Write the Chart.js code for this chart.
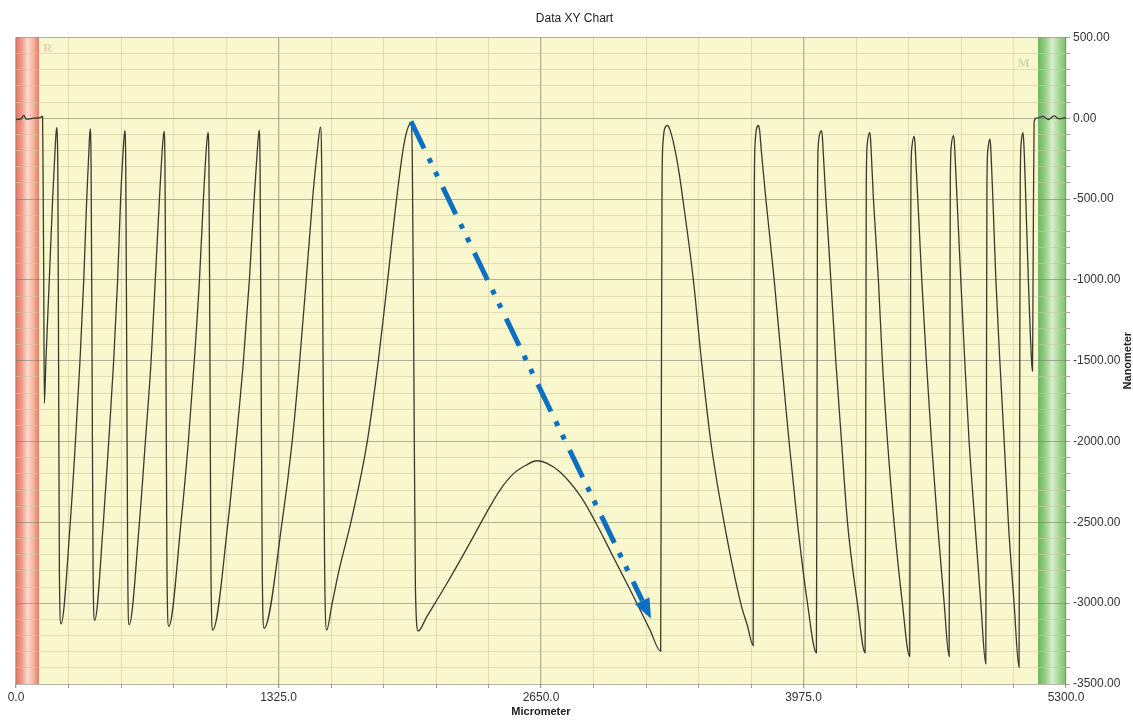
<!DOCTYPE html>
<html>
<head>
<meta charset="utf-8">
<title>Data XY Chart</title>
<script src="https://cdn.jsdelivr.net/npm/chart.js@4.4.1/dist/chart.umd.min.js"></script>
<style>
  html, body { margin: 0; padding: 0; background: #fff; }
  #wrap { width: 1133px; height: 720px; position: relative; }
</style>
</head>
<body>
<div id="wrap"><canvas id="xy"></canvas></div>
<script>
// ------------------------------------------------------
// profile data (Micrometer, Nanometer)
// ------------------------------------------------------
const xRange = [0, 5300];
const yRange = [-3500, 500];
const xStep = 265, xLabelEvery = 1325;
const yStep = 100, yLabelEvery = 500;

// flat lead-in + first short dip
const leadIn = [
  [0,-8],[25,-4],[40,18],[52,-6],[90,0],[120,4],[134,12],
  [137,-400],[140,-1000],[143,-1764]
];

// left side: slow rise, sharp drop
const leftWaves = [
  [151,-1500],[168,-1000],[185,-500],[197,-200],[205,-59],
  [211,-300],[215,-1500],[219,-2800],[227,-3128],
  [274,-2500],[300,-2000],[323,-1500],[342,-1000],[357,-500],[368,-200],[374,-66],
  [379,-300],[384,-1500],[389,-2800],[397,-3106],
  [441,-2500],[468,-2000],[493,-1500],[513,-1000],[528,-500],[541,-200],[549,-77],
  [554,-300],[559,-1500],[564,-2800],[571,-3133],
  [623,-2500],[653,-2000],[682,-1500],[703,-1000],[724,-500],[738,-200],[747,-81],
  [752,-300],[757,-1500],[762,-2800],[771,-3144],
  [833,-2500],[870,-2000],[900,-1500],[926,-1000],[946,-500],[960,-200],[969,-88],
  [974,-300],[979,-1500],[984,-2800],[993,-3166],
  [1070,-2500],[1111,-2000],[1148,-1500],[1178,-1000],[1202,-500],[1218,-200],[1227,-75],
  [1232,-300],[1237,-1500],[1243,-2800],[1252,-3155],
  [1343,-2500],[1394,-2000],[1432,-1500],[1465,-1000],[1497,-500],[1521,-200],[1537,-55],
  [1543,-300],[1550,-1500],[1558,-2800],[1568,-3166],
  [1596,-3000],[1630,-2800],[1694,-2480],[1773,-2000],[1829,-1500],[1876,-1000],[1921,-500],[1960,-150],[1993,-31],
  [2000,-200],[2008,-1500],[2016,-2900],[2030,-3172]
];

// middle hump
const hump = [
  [2073,-3085],[2174,-2880],[2249,-2720],[2308,-2590],[2375,-2440],[2443,-2300],
  [2510,-2200],[2577,-2145],[2628,-2119],[2678,-2134],[2746,-2189],[2850,-2340],
  [2930,-2510],[3013,-2710],[3103,-2925],[3150,-3040],[3200,-3165],[3254,-3296]
];

// right side: sharp rise, slow fall
const rightWaves = [
  [3257,-2000],[3261,-400],[3266,-150],[3275,-60],[3288,-45],
  [3302,-75],[3322,-170],[3346,-330],[3366,-500],[3419,-1000],[3460,-1500],[3507,-2000],[3574,-2500],[3658,-3000],[3692,-3140],[3721,-3262],
  [3724,-2000],[3727,-400],[3731,-150],[3738,-65],[3748,-45],
  [3754,-80],[3762,-200],[3785,-500],[3827,-1000],[3864,-1500],[3902,-2000],[3944,-2500],[3995,-3000],[4040,-3307],
  [4043,-2000],[4046,-400],[4050,-160],[4057,-95],[4066,-78],
  [4070,-110],[4075,-220],[4088,-500],[4113,-1000],[4138,-1500],[4167,-2000],[4197,-2500],[4247,-3000],[4286,-3307],
  [4289,-2000],[4292,-400],[4297,-160],[4309,-90],
  [4313,-120],[4318,-240],[4328,-500],[4353,-1000],[4373,-1500],[4399,-2000],[4432,-2500],[4474,-3000],[4511,-3329],
  [4514,-2000],[4517,-400],[4522,-180],[4533,-112],
  [4537,-140],[4542,-260],[4552,-500],[4572,-1000],[4595,-1500],[4621,-2000],[4651,-2500],[4685,-3000],[4710,-3329],
  [4713,-2000],[4716,-400],[4721,-170],[4732,-108],
  [4736,-140],[4741,-260],[4750,-500],[4769,-1000],[4789,-1500],[4811,-2000],[4840,-2500],[4870,-3000],[4895,-3374],
  [4898,-2000],[4901,-400],[4906,-190],[4915,-130],
  [4919,-160],[4923,-260],[4931,-500],[4946,-1000],[4966,-1500],[4988,-2000],[5009,-2500],[5038,-3000],[5063,-3397],
  [5066,-2000],[5069,-400],[5074,-150],[5082,-90],
  [5086,-130],[5090,-240],[5097,-500],[5110,-1000],[5126,-1500],[5131,-1565]
];

// tail back to zero
const leadOut = [
  [5135,-700],[5139,-20],[5150,0],[5185,12],[5210,-8],[5240,14],[5265,-4],[5300,4]
];

// R / M zones
const zoneR = [0, 116];
const zoneM = [5159, 5300];

// annotation arrow (start, tip)
const arrowStart = [1994, -20];
const arrowTip = [3205, -3096];


// ------------------------------------------------------
// colours / fonts
// ------------------------------------------------------
const FONT = '"Liberation Sans", Arial, sans-serif';
const PLOT_BG = '#f8f7cd';
const GRID_MAJOR = 'rgba(120,120,105,0.55)';
const GRID_MINOR = 'rgba(205,200,150,0.55)';
const LINE_COLOR = '#3a3a30';
const ARROW_BLUE = '#0b6fc2';

Chart.defaults.font.family = FONT;


// ------------------------------------------------------
// plugins
// ------------------------------------------------------
const plotBackground = {
  id: 'plotBackground',
  beforeDraw(chart){
    const { ctx, chartArea: a, scales: { x, y } } = chart;
    ctx.save();
    ctx.fillStyle = PLOT_BG;
    ctx.fillRect(a.left, a.top, a.right - a.left, a.bottom - a.top);

    const bands = [
      { range: zoneR, stops: ['#e37767','#ee9a88','#fbdacd','#f5b5a0','#ea7a60'],
        label: 'R', labelColor: '#ead3b4', lx: 136, ly: 430 },
      { range: zoneM, stops: ['#6ab659','#95cd84','#d8eecc','#a6d795','#7bbf69'],
        label: 'M', labelColor: '#cadcb0', lx: 5055, ly: 335 }
    ];
    bands.forEach(b => {
      const l = x.getPixelForValue(b.range[0]);
      const r = x.getPixelForValue(b.range[1]);
      const g = ctx.createLinearGradient(l, 0, r, 0);
      b.stops.forEach((c, i) => g.addColorStop(i / (b.stops.length - 1), c));
      ctx.fillStyle = g;
      ctx.fillRect(l, a.top, r - l, a.bottom - a.top);

      ctx.fillStyle = b.labelColor;
      ctx.font = 'bold 13px "Liberation Serif", serif';
      ctx.textAlign = 'left';
      ctx.textBaseline = 'middle';
      ctx.fillText(b.label, x.getPixelForValue(b.lx), y.getPixelForValue(b.ly));
    });
    ctx.restore();
  }
};

const arrowNote = {
  id: 'arrowNote',
  afterDatasetsDraw(chart){
    const { ctx, scales: { x, y } } = chart;
    const x0 = x.getPixelForValue(arrowStart[0]), y0 = y.getPixelForValue(arrowStart[1]);
    const x1 = x.getPixelForValue(arrowTip[0]),   y1 = y.getPixelForValue(arrowTip[1]);
    const ang = Math.atan2(y1 - y0, x1 - x0);
    const headLen = 20, headHalf = 8;
    const bx = x1 - headLen * Math.cos(ang), by = y1 - headLen * Math.sin(ang);

    ctx.save();
    ctx.strokeStyle = ARROW_BLUE;
    ctx.lineWidth = 5;
    ctx.lineCap = 'butt';
    ctx.setLineDash([30, 11, 5, 10, 5, 12]);
    ctx.beginPath();
    ctx.moveTo(x0, y0);
    ctx.lineTo(bx, by);
    ctx.stroke();

    ctx.setLineDash([]);
    ctx.fillStyle = ARROW_BLUE;
    ctx.beginPath();
    ctx.moveTo(x1, y1);
    ctx.lineTo(bx + headHalf * Math.sin(ang), by - headHalf * Math.cos(ang));
    ctx.lineTo(bx - headHalf * Math.sin(ang), by + headHalf * Math.cos(ang));
    ctx.closePath();
    ctx.fill();
    ctx.restore();
  }
};

// right-hand axis title, reading bottom to top
const yAxisTitle = {
  id: 'yAxisTitle',
  afterDraw(chart){
    const { ctx, chartArea: a } = chart;
    ctx.save();
    ctx.translate(chart.width - 5, (a.top + a.bottom) / 2);
    ctx.rotate(-Math.PI / 2);
    ctx.fillStyle = '#222';
    ctx.font = 'bold 11px ' + FONT;
    ctx.textAlign = 'center';
    ctx.textBaseline = 'middle';
    ctx.fillText('Nanometer', 0, 0);
    ctx.restore();
  }
};


// ------------------------------------------------------
// chart
// ------------------------------------------------------
const profile = [].concat(leadIn, leftWaves, hump, rightWaves, leadOut);

new Chart(document.getElementById('xy').getContext('2d'), {
  type: 'line',
  data: {
    datasets: [{
      data: profile.map(([px, py]) => ({ x: px, y: py })),
      borderColor: LINE_COLOR,
      borderWidth: 1.3,
      pointRadius: 0,
      fill: false,
      cubicInterpolationMode: 'monotone'
    }]
  },
  options: {
    responsive: true,
    maintainAspectRatio: false,
    animation: false,
    layout: { padding: { left: 16, right: 0, top: 0, bottom: 0 } },
    plugins: {
      legend: { display: false },
      tooltip: { enabled: false },
      title: {
        display: true,
        text: 'Data XY Chart',
        color: '#222',
        font: { size: 12, weight: 'normal' },
        padding: { top: 11, bottom: 12 }
      }
    },
    scales: {
      x: {
        type: 'linear',
        position: 'bottom',
        min: xRange[0], max: xRange[1],
        border: { display: false },
        grid: {
          color: c => (c.tick && c.tick.value % xLabelEvery === 0) ? GRID_MAJOR : GRID_MINOR,
          lineWidth: c => (c.tick && c.tick.value % xLabelEvery === 0) ? 1.3 : 1,
          tickLength: 4,
          tickColor: '#a0a0a0'
        },
        ticks: {
          stepSize: xStep,
          autoSkip: false,
          maxRotation: 0,
          padding: 2,
          color: '#333',
          font: { size: 12 },
          callback: v => v % xLabelEvery === 0 ? v.toFixed(1) : ''
        },
        title: {
          display: true,
          text: 'Micrometer',
          color: '#222',
          font: { size: 11, weight: 'bold' },
          padding: { top: 0, bottom: 1 }
        },
        afterFit(s){ s.height = 36; }
      },
      y: {
        type: 'linear',
        position: 'right',
        min: yRange[0], max: yRange[1],
        border: { display: false },
        grid: {
          color: c => (c.tick && c.tick.value % yLabelEvery === 0) ? GRID_MAJOR : GRID_MINOR,
          tickLength: 4,
          tickColor: '#a0a0a0'
        },
        ticks: {
          stepSize: yStep,
          autoSkip: false,
          padding: 3,
          color: '#333',
          font: { size: 12 },
          callback: v => v % yLabelEvery === 0 ? v.toFixed(2) : ''
        },
        afterFit(s){ s.width = 67; }
      }
    }
  },
  plugins: [plotBackground, arrowNote, yAxisTitle]
});
</script>
</body>
</html>
